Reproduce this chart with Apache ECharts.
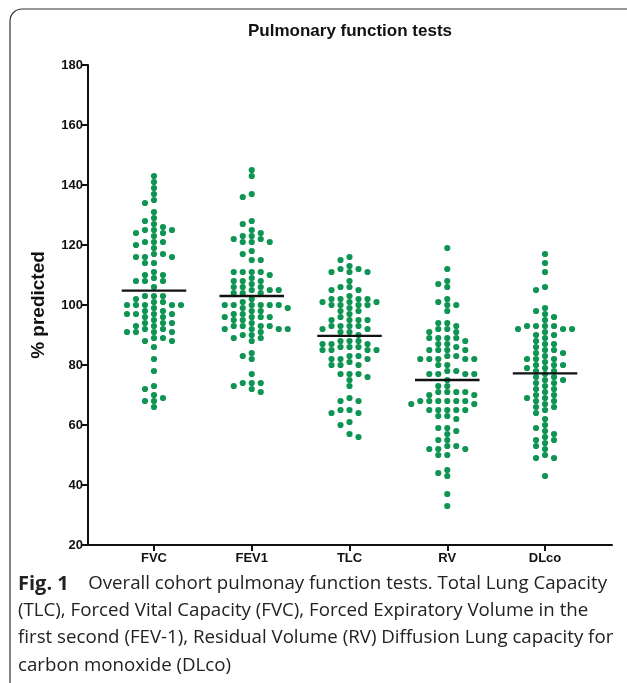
<!DOCTYPE html>
<html>
<head>
<meta charset="utf-8">
<script src="https://cdn.jsdelivr.net/npm/echarts@6/dist/echarts.min.js"></script>
<style>
  html, body { margin: 0; padding: 0; background: #fff; }
  #main { width: 627px; height: 683px; }
</style>
</head>
<body>
<div id="main"></div>
<script>
// values (% predicted)
const categories = ['FVC', 'FEV1', 'TLC', 'RV', 'DLco'];

const fvc = [143, 141, 139, 137, 135, 134, 131, 129, 128, 127, 126, 125, 125, 125, 124, 124, 123, 121, 121, 121,
  120, 119, 117, 116, 116, 116, 117, 114, 114, 111, 110, 108, 108, 109, 110, 108, 106, 103, 103, 103,
  102, 101, 101, 100, 100, 100, 100, 100, 99, 98, 98, 97, 97, 97, 97, 96, 96, 95, 94, 94,
  94, 93, 93, 92, 92, 91, 91, 91, 91, 89, 89, 88, 88, 86, 82, 78, 73, 72, 70, 69, 68, 68, 66];

const fev1 = [145, 143, 137, 136, 128, 127, 125, 124, 123, 123, 122, 122, 121, 121, 121, 118, 117, 115, 115, 111,
  111, 111, 111, 110, 109, 108, 108, 108, 107, 106, 106, 106, 105, 105, 105, 104, 104, 104, 102, 101,
  100, 100, 100, 100, 100, 100, 99, 99, 98, 98, 97, 97, 96, 96, 96, 96, 95, 95, 94, 93,
  93, 93, 93, 92, 92, 92, 92, 91, 90, 90, 89, 89, 88, 84, 83, 82, 77, 74, 74, 74, 73, 72, 71];

const tlc = [116, 115, 113, 112, 111, 111, 111, 112, 108, 106, 106, 105, 105, 103, 101, 102, 102, 102, 102, 100,
  100, 100, 101, 100, 101, 98, 98, 99, 97, 96, 95, 95, 95, 95, 93, 93, 93, 92, 93, 92,
  91, 91, 90, 88, 88, 86, 86, 87, 87, 87, 88, 86, 85, 85, 85, 85, 83, 83, 82, 82,
  81, 82, 80, 80, 80, 77, 77, 76, 77, 75, 73, 69, 68, 68, 65, 64, 65, 64, 60, 61, 56, 57];

const rv = [119, 112, 108, 107, 106, 102, 101, 100, 100, 98, 94, 94, 93, 92, 92, 91, 91, 89, 89, 89,
  89, 88, 87, 87, 86, 85, 85, 85, 85, 83, 83, 82, 82, 82, 82, 82, 80, 80, 78, 78,
  77, 77, 77, 77, 75, 73, 73, 71, 71, 71, 71, 70, 70, 68, 68, 68, 68, 68, 68, 67,
  67, 65, 65, 65, 65, 65, 63, 63, 62, 59, 59, 58, 57, 55, 55, 53, 53, 52, 52, 52, 50, 50, 45, 44, 43, 37, 33];

const dlco = [117, 114, 111, 106, 105, 99, 98, 97, 96, 95, 93, 93, 93, 93, 92, 92, 92, 91, 90, 90,
  89, 88, 87, 87, 86, 85, 85, 84, 84, 83, 82, 82, 82, 81, 80, 80, 80, 79, 79, 78,
  78, 77, 76, 76, 75, 75, 74, 74, 73, 72, 72, 71, 70, 70, 69, 69, 68, 68, 67, 66,
  66, 65, 64, 62, 60, 59, 58, 57, 56, 55, 55, 54, 53, 52, 50, 49, 49, 43];

const means = [104.8, 103, 89.7, 75, 77.2];

const groups = [fvc, fev1, tlc, rv, dlco];

const W = 627, H = 683;
const gridLeft = 88, gridRight = 15, gridTop = 65, gridBottom = 138;
const xMin = -0.675, xMax = 4.685, yMin = 20, yMax = 180;
const pxPerX = (W - gridLeft - gridRight) / (xMax - xMin);
const pxPerY = (H - gridTop - gridBottom) / (yMax - yMin);
const GREEN = '#0f9553';
const COL_W = 9;   // px between dot columns
const MIN_DY = 6;  // px between dots in one column

// column scatter: each dot takes the column nearest the centre that is free at its height
function swarm(values) {
  const sorted = values.slice().sort((a, b) => b - a);
  const placed = [];
  sorted.forEach(v => {
    const y = v * pxPerY;
    const near = placed.filter(p => Math.abs(p.y - y) < 14);
    const left = near.filter(p => p.c < 0).length;
    const right = near.filter(p => p.c > 0).length;
    let col = null;
    for (let k = 0; k < 15 && col === null; k++) {
      const opts = k === 0 ? [0] : (left > right ? [k, -k] : [-k, k]);
      for (const c of opts) {
        if (placed.every(p => p.c !== c || Math.abs(p.y - y) >= MIN_DY)) { col = c; break; }
      }
    }
    placed.push({ c: col, y, v });
  });
  return placed.map(p => ({ x: p.c * COL_W, v: p.v }));
}

const series = [];
groups.forEach((vals, i) => {
  series.push({
    type: 'scatter',
    symbolSize: 6.2,
    itemStyle: { color: GREEN, opacity: 1 },
    data: swarm(vals).map(p => [i + p.x / pxPerX, p.v]),
    z: 2
  });
  series.push({
    type: 'line',
    symbol: 'none',
    lineStyle: { color: '#111', width: 2.3 },
    data: [[i - 0.33, means[i]], [i + 0.33, means[i]]],
    z: 3
  });
});

const chart = echarts.init(document.getElementById('main'));
chart.setOption({
  animation: false,
  grid: { left: gridLeft, right: gridRight, top: gridTop, bottom: gridBottom },
  xAxis: {
    type: 'value',
    min: xMin,
    max: xMax,
    splitLine: { show: false },
    axisLine: { onZero: false, lineStyle: { color: '#111', width: 2 } },
    axisTick: { customValues: [0, 1, 2, 3, 4], length: 6, lineStyle: { color: '#111', width: 2 } },
    axisLabel: {
      customValues: [0, 1, 2, 3, 4],
      formatter: v => categories[Math.round(v)],
      color: '#111', fontWeight: 'bold', fontSize: 13, fontFamily: 'Liberation Sans', margin: 7
    }
  },
  yAxis: {
    type: 'value',
    min: yMin,
    max: yMax,
    interval: 20,
    name: '% predicted',
    nameLocation: 'middle',
    nameGap: 40,
    nameTextStyle: { color: '#111', fontWeight: 'bold', fontSize: 19, fontFamily: 'Liberation Sans' },
    splitLine: { show: false },
    axisLine: { show: true, onZero: false, lineStyle: { color: '#111', width: 2 } },
    axisTick: { show: true, length: 6, lineStyle: { color: '#111', width: 2 } },
    axisLabel: { color: '#111', fontWeight: 'bold', fontSize: 13, fontFamily: 'Liberation Sans', margin: 5 }
  },
  graphic: [
    {
      type: 'rect',
      shape: { x: 10, y: 9, width: 800, height: 800, r: 12 },
      style: { fill: 'none', stroke: '#333', lineWidth: 1.2 },
      silent: true
    },
    {
      type: 'text', x: 350, y: 31,
      style: { text: 'Pulmonary function tests', fill: '#111', font: 'bold 17px "Liberation Sans"', textAlign: 'center', textVerticalAlign: 'middle' }
    },
    {
      type: 'text', x: 18, y: 584,
      style: {
        text: '{b|Fig. 1}    Overall cohort pulmonay function tests. Total Lung Capacity',
        fill: '#222', font: '18.7px "Open Sans"', textVerticalAlign: 'middle',
        rich: { b: { font: 'bold 20px "Open Sans"', fill: '#222' } }
      }
    },
    {
      type: 'text', x: 18, y: 611,
      style: { text: '(TLC), Forced Vital Capacity (FVC), Forced Expiratory Volume in the', fill: '#222', font: '18.7px "Open Sans"', textVerticalAlign: 'middle' }
    },
    {
      type: 'text', x: 18, y: 638,
      style: { text: 'first second (FEV-1), Residual Volume (RV) Diffusion Lung capacity for', fill: '#222', font: '18.7px "Open Sans"', textVerticalAlign: 'middle' }
    },
    {
      type: 'text', x: 18, y: 666,
      style: { text: 'carbon monoxide (DLco)', fill: '#222', font: '18.7px "Open Sans"', textVerticalAlign: 'middle' }
    }
  ],
  series: series
});
</script>
</body>
</html>
